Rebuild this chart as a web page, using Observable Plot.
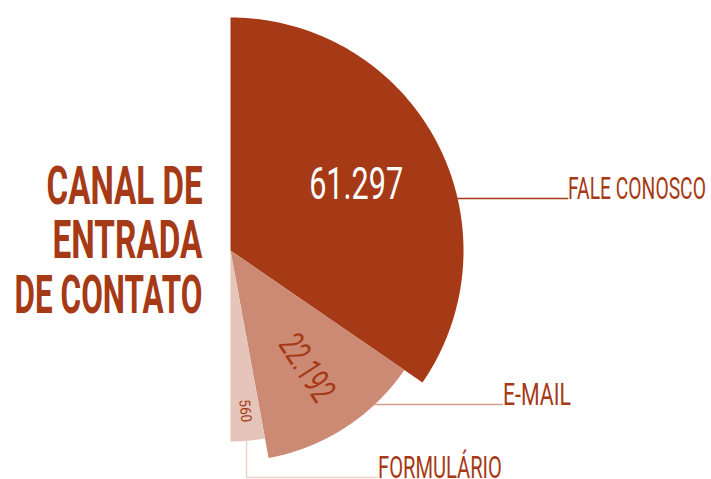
<!DOCTYPE html>
<html>
<head>
<meta charset="utf-8">
<script src="https://cdn.jsdelivr.net/npm/d3@7"></script>
<script src="https://cdn.jsdelivr.net/npm/@observablehq/plot@0.6"></script>
<style>
  html, body { margin: 0; padding: 0; background: #ffffff; }
  #chart svg { display: block; }
</style>
</head>
<body>
<div id="chart"></div>
<script>
// ---------- DATA ----------
const categories = ["FALE CONOSCO", "E-MAIL", "FORMULÁRIO"];
const values = [61297, 22192, 560];
const valueLabels = ["61.297", "22.192", "560"];
const titleLines = ["CANAL DE", "ENTRADA", "DE CONTATO"];

// ---------- LAYOUT / STYLE ----------
const W = 711, H = 479;
const CX = 230, CY = 250;               // pie centre (px)
const SPAN = 180;                        // half pie
const MIN_ANGLE = 10.4;                  // minimum visible angle for tiny slices (deg)
const sliceColors = ["#a63a16", "#cc8973", "#e5c5b9"];
const leaderColors = ["#a63a16", "#d3a08d", "#ecd3ca"];
const textColor = "#a63a16";
const sliceRadii = [233, 211, 191];
const labelRadii = [142, 140, 161];
const valueFontSizes = [45, 36, 15];
const valueFills = ["#ffffff", textColor, textColor];
const valueRotates = [false, true, true];
// leader geometry (relative to centre): horizontal at y to x2, or vertical at x down to y2 then to x2
const leaders = [
  {type: "h", y: -52, x2: 337},
  {type: "h", y: 154, x2: 272},
  {type: "v", x: 16, y2: 227, x2: 147}
];
const titleRight = -28, titleBaseline0 = -47, titleGap = 54.5;
// horizontal condensing (target text widths, px)
const textLengths = new Map([
  ["CANAL DE", 156], ["ENTRADA", 150], ["DE CONTATO", 188],
  ["FALE CONOSCO", 138], ["E-MAIL", 68], ["FORMULÁRIO", 124],
  ["61.297", 94], ["22.192", 72], ["560", 23]
]);

// ---------- GEOMETRY FROM DATA ----------
const total = d3.sum(values);
const isSmall = values.map(v => v / total * SPAN < MIN_ANGLE);
const fixedAngle = d3.sum(isSmall, s => s ? MIN_ANGLE : 0);
const bigTotal = d3.sum(values.filter((v, i) => !isSmall[i]));
const spans = values.map((v, i) => isSmall[i] ? MIN_ANGLE : v / bigTotal * (SPAN - fixedAngle));
let acc = 0;
const slices = categories.map((c, i) => {
  const a0 = acc; acc += spans[i];
  return {i, category: c, value: values[i], label: valueLabels[i], a0, a1: acc, mid: (a0 + acc) / 2, r: sliceRadii[i]};
});
const rad = a => a * Math.PI / 180;
const px = (r, a) => r * Math.sin(rad(a));
const py = (r, a) => -r * Math.cos(rad(a));

function slicePolygon(s) {
  const pts = [{x: 0, y: 0}];
  const n = Math.max(2, Math.ceil((s.a1 - s.a0) / 0.25));
  for (let k = 0; k <= n; k++) {
    const a = s.a0 + (s.a1 - s.a0) * k / n;
    pts.push({x: px(s.r, a), y: py(s.r, a)});
  }
  pts.push({x: 0, y: 0});
  return pts;
}

function leaderPath(s) {
  const L = leaders[s.i];
  if (L.type === "h") {
    const x1 = Math.sqrt(s.r * s.r - L.y * L.y);
    return [{x: x1, y: L.y}, {x: L.x2, y: L.y}];
  } else {
    const y1 = Math.sqrt(s.r * s.r - L.x * L.x);
    return [{x: L.x, y: y1}, {x: L.x, y: L.y2}, {x: L.x2, y: L.y2}];
  }
}

const catLabels = slices.map(s => {
  const L = leaders[s.i];
  return {text: s.category, x: L.x2 + 0.5, y: L.type === "h" ? L.y : L.y2};
});

const valLabels = slices.map(s => ({
  text: s.label,
  x: px(labelRadii[s.i], s.mid),
  y: py(labelRadii[s.i], s.mid),
  rotate: valueRotates[s.i] ? s.mid - 90 : 0,
  i: s.i
}));

const titleData = titleLines.map((t, k) => ({text: t, x: titleRight, y: titleBaseline0 + k * titleGap}));

// ---------- PLOT ----------
const marks = [];
slices.forEach(s => {
  marks.push(Plot.line(slicePolygon(s), {x: "x", y: "y", fill: sliceColors[s.i], stroke: "none", curve: "linear"}));
});
slices.forEach(s => {
  marks.push(Plot.line(leaderPath(s), {x: "x", y: "y", stroke: leaderColors[s.i], strokeWidth: 1.5, curve: "linear"}));
});
marks.push(Plot.text(catLabels, {
  x: "x", y: "y", text: "text", textAnchor: "start", lineAnchor: "bottom",
  fill: textColor, fontSize: 31, fontFamily: "Roboto", fontWeight: 400
}));
valLabels.forEach(v => {
  marks.push(Plot.text([v], {
    x: "x", y: "y", text: "text", rotate: v.rotate, textAnchor: "middle", lineAnchor: "middle",
    fill: valueFills[v.i], fontSize: valueFontSizes[v.i], fontFamily: "Roboto", fontWeight: 400
  }));
});
marks.push(Plot.text(titleData, {
  x: "x", y: "y", text: "text", textAnchor: "end", lineAnchor: "bottom",
  fill: textColor, fontSize: 54, fontFamily: "Roboto", fontWeight: 700
}));

const chart = Plot.plot({
  width: W, height: H,
  margin: 0,
  x: {domain: [-CX, W - CX], range: [0, W], axis: null},
  y: {domain: [-CY, H - CY], range: [0, H], axis: null},
  style: {background: "#ffffff", overflow: "visible"},
  marks
});
document.getElementById("chart").appendChild(chart);

// condense texts horizontally around their anchor point
chart.querySelectorAll("text").forEach(t => {
  const L = textLengths.get(t.textContent);
  if (!L) return;
  const natural = t.getComputedTextLength();
  if (!natural) return;
  const f = L / natural;
  const tr = t.getAttribute("transform") || "";
  t.setAttribute("transform", `${tr} scale(${f.toFixed(4)},1)`);
});
</script>
</body>
</html>
